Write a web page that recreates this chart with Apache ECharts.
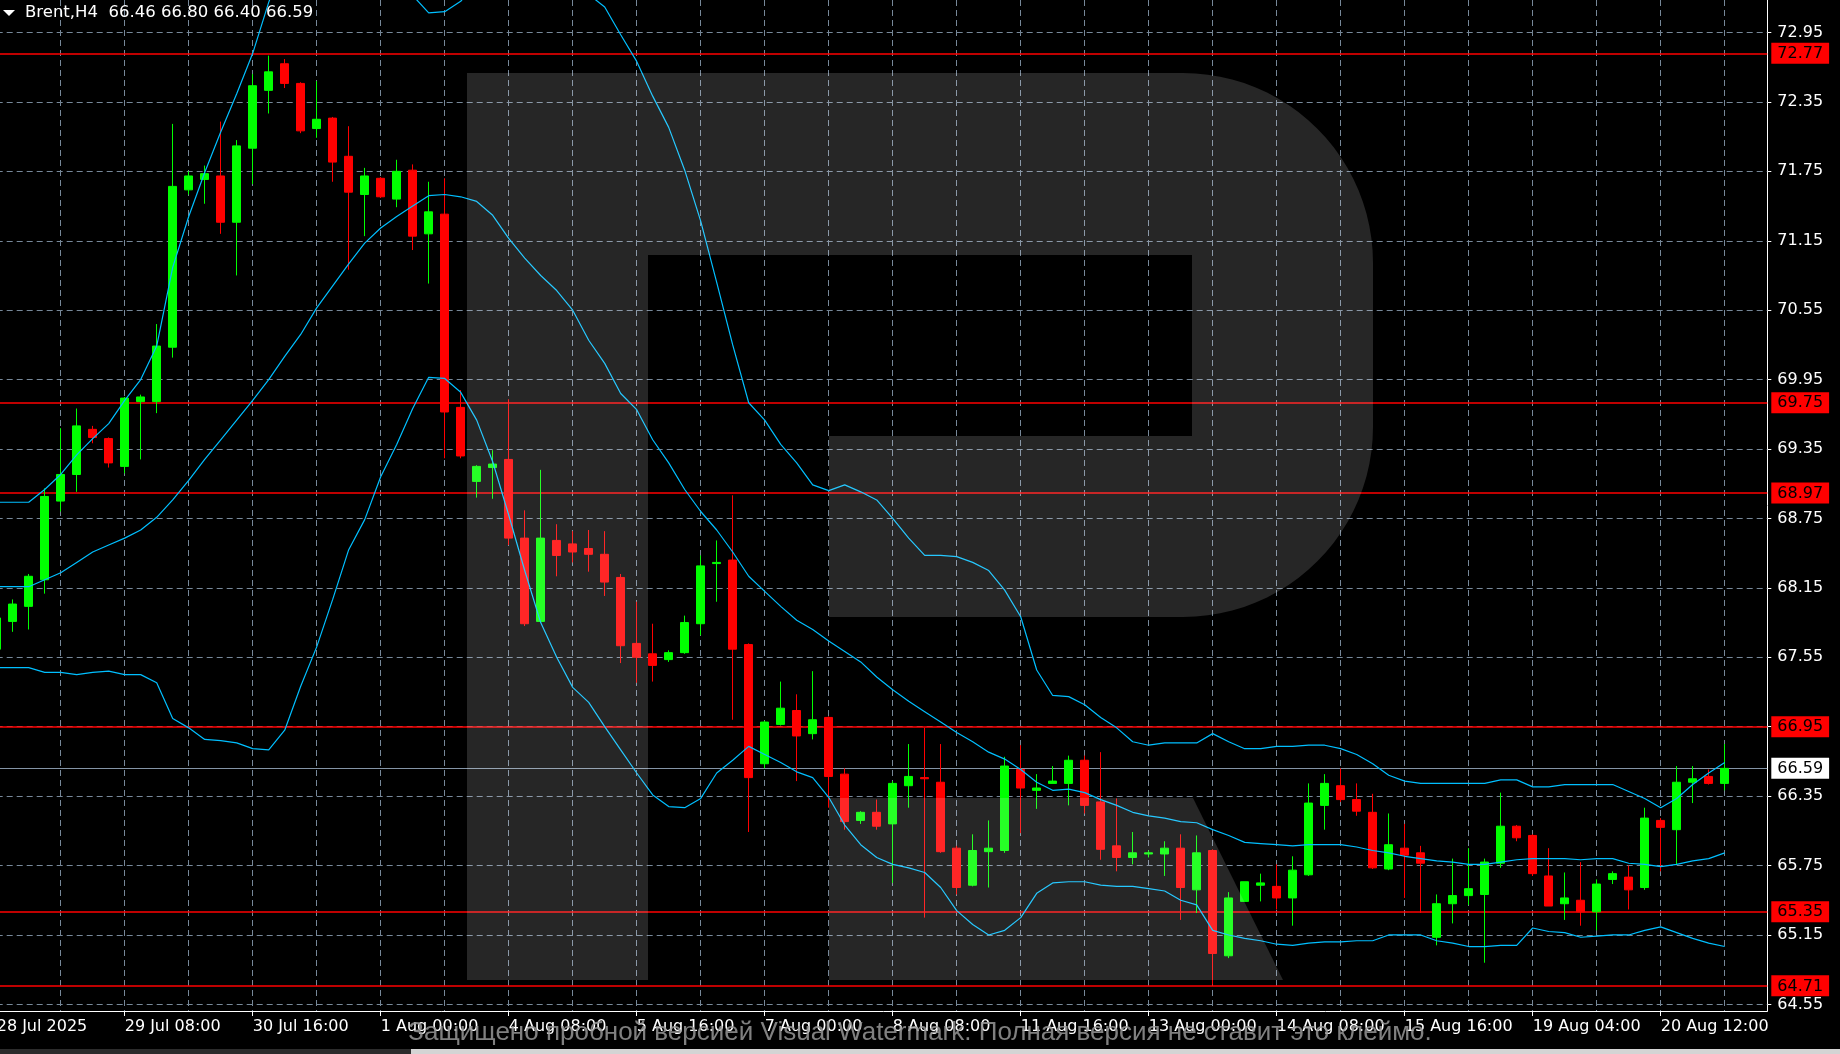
<!DOCTYPE html>
<html><head><meta charset="utf-8">
<script src="https://cdn.jsdelivr.net/npm/echarts@6/dist/echarts.min.js"></script>
<style>html,body{margin:0;padding:0;background:#000;overflow:hidden}#c{width:1840px;height:1054px}</style>
</head><body><div id="c"></div>
<script>
// ---------- DATA ----------
const symbolName = 'Brent,H4';
const timeLabels = ['28 Jul 2025','29 Jul 08:00','30 Jul 16:00','1 Aug 00:00','4 Aug 08:00','5 Aug 16:00','7 Aug 00:00','8 Aug 08:00','11 Aug 16:00','13 Aug 00:00','14 Aug 08:00','15 Aug 16:00','19 Aug 04:00','20 Aug 12:00'];
const barsPerLabel = 8;
const priceTicks = [64.55,65.15,65.75,66.35,66.95,67.55,68.15,68.75,69.35,69.95,70.55,71.15,71.75,72.35,72.95];
const levelLines = [72.77,69.75,68.97,66.95,65.35,64.71];
const lastPrice = 66.59;

const opens  = [67.62,67.86,67.99,68.22,68.90,69.13,69.52,69.44,69.20,69.76,69.76,70.23,71.59,71.68,71.71,71.31,71.95,72.45,72.68,72.51,72.12,72.21,71.88,71.55,71.69,71.51,71.76,71.21,71.38,69.71,69.07,69.19,69.26,68.58,67.86,68.56,68.53,68.49,68.44,68.24,67.67,67.58,67.53,67.59,67.84,68.36,68.39,67.66,66.63,66.97,67.09,66.89,67.03,66.54,66.14,66.21,66.11,66.44,66.51,66.47,65.90,65.58,65.87,65.88,66.58,66.40,66.46,66.46,66.66,66.30,65.92,65.82,65.85,65.85,65.90,65.54,65.88,64.97,65.44,65.58,65.57,65.47,65.67,66.27,66.44,66.32,66.21,65.72,65.90,65.86,65.13,65.42,65.49,65.50,65.77,66.09,66.01,65.66,65.42,65.45,65.35,65.63,65.65,65.56,66.14,66.06,66.47,66.52,66.46];
const closes = [67.89,68.01,68.25,68.94,69.13,69.55,69.45,69.23,69.79,69.80,70.24,71.62,71.71,71.73,71.31,71.97,72.49,72.61,72.51,72.10,72.20,71.83,71.57,71.71,71.53,71.75,71.19,71.40,69.67,69.29,69.20,69.22,68.58,67.84,68.58,68.43,68.46,68.44,68.20,67.65,67.55,67.48,67.59,67.85,68.34,68.37,67.62,66.51,66.99,67.11,66.87,67.01,66.52,66.13,66.21,66.09,66.46,66.52,66.50,65.87,65.56,65.88,65.90,66.61,66.42,66.42,66.48,66.66,66.27,65.89,65.82,65.86,65.86,65.90,65.56,65.86,64.99,65.47,65.61,65.60,65.47,65.71,66.29,66.46,66.32,66.22,65.73,65.93,65.84,65.77,65.42,65.49,65.55,65.78,66.09,65.99,65.68,65.40,65.47,65.35,65.59,65.68,65.54,66.16,66.08,66.47,66.50,66.46,66.59];
const highs  = [67.95,68.05,68.27,69.01,69.53,69.70,69.55,69.45,69.80,69.82,70.43,72.16,71.75,71.80,72.18,72.02,72.59,72.75,72.72,72.52,72.53,72.22,72.14,71.78,71.70,71.85,71.81,71.66,71.69,69.86,69.21,69.34,69.78,68.82,69.17,68.70,68.64,68.65,68.64,68.27,68.03,67.84,67.61,67.91,68.43,68.56,68.95,67.67,67.00,67.34,67.23,67.43,67.04,66.59,66.22,66.32,66.48,66.80,66.94,66.80,65.92,66.02,66.14,66.69,66.79,66.54,66.61,66.70,66.70,66.73,66.33,66.04,65.88,65.96,66.02,66.01,65.89,65.52,65.61,65.68,65.76,65.83,66.46,66.54,66.59,66.46,66.37,66.20,66.11,65.92,65.50,65.81,65.90,65.81,66.38,66.10,66.02,65.90,65.69,65.78,65.63,65.70,65.75,66.25,66.16,66.61,66.61,66.58,66.80];
const lows   = [67.55,67.77,67.79,68.10,68.81,68.98,69.40,69.19,69.14,69.26,69.66,70.14,71.55,71.47,71.21,70.85,71.64,72.25,72.47,72.08,72.04,71.66,70.90,71.19,71.52,71.44,71.07,70.78,69.27,69.27,68.93,68.92,68.52,67.82,67.85,68.25,68.37,68.29,68.08,67.50,67.33,67.34,67.51,67.58,67.74,68.03,67.01,66.04,66.59,66.96,66.48,66.84,66.25,66.06,66.11,66.06,65.60,66.25,65.30,65.86,65.50,65.57,65.56,65.86,66.03,66.24,66.46,66.27,66.20,65.80,65.70,65.76,65.82,65.66,65.28,65.34,64.72,64.95,65.44,65.44,65.37,65.23,65.66,66.06,66.30,66.18,65.72,65.71,65.47,65.34,65.06,65.25,65.41,64.91,65.73,65.96,65.66,65.40,65.28,65.23,65.19,65.59,65.37,65.54,65.70,65.76,66.29,66.45,66.40];

const bbUpper  = [68.89,68.89,68.89,69.00,69.13,69.30,69.44,69.57,69.77,69.95,70.24,70.92,71.36,71.74,72.09,72.42,72.77,73.21,73.60,73.90,74.10,74.20,74.15,73.95,73.70,73.45,73.27,73.12,73.13,73.22,73.38,73.58,73.72,73.78,73.72,73.60,73.45,73.28,73.17,72.93,72.70,72.40,72.13,71.76,71.32,70.79,70.25,69.75,69.60,69.39,69.23,69.04,68.99,69.04,68.98,68.91,68.75,68.58,68.43,68.43,68.42,68.37,68.30,68.13,67.90,67.44,67.22,67.21,67.14,67.03,66.94,66.82,66.79,66.81,66.81,66.81,66.89,66.82,66.76,66.76,66.78,66.78,66.79,66.79,66.76,66.71,66.63,66.53,66.48,66.46,66.46,66.46,66.46,66.46,66.49,66.49,66.43,66.43,66.45,66.45,66.45,66.45,66.39,66.33,66.25,66.33,66.45,66.55,66.64];
const bbMiddle = [68.16,68.16,68.16,68.22,68.28,68.37,68.46,68.52,68.58,68.65,68.76,68.91,69.08,69.26,69.43,69.60,69.77,69.95,70.15,70.34,70.57,70.76,70.95,71.13,71.26,71.36,71.45,71.54,71.55,71.53,71.49,71.37,71.17,71.00,70.85,70.72,70.55,70.29,70.09,69.83,69.69,69.43,69.23,69.00,68.81,68.65,68.46,68.25,68.12,67.99,67.87,67.79,67.69,67.60,67.51,67.38,67.27,67.17,67.08,66.99,66.90,66.82,66.73,66.67,66.58,66.47,66.40,66.41,66.38,66.32,66.27,66.21,66.18,66.16,66.13,66.12,66.06,66.01,65.95,65.94,65.93,65.92,65.93,65.93,65.93,65.91,65.88,65.86,65.83,65.81,65.79,65.78,65.76,65.76,65.78,65.80,65.81,65.81,65.81,65.80,65.81,65.81,65.77,65.76,65.74,65.76,65.79,65.81,65.86];
const bbLower  = [67.46,67.46,67.46,67.42,67.42,67.40,67.42,67.43,67.40,67.40,67.33,67.02,66.94,66.84,66.83,66.81,66.76,66.75,66.92,67.30,67.64,68.05,68.48,68.74,69.11,69.39,69.70,69.97,69.96,69.84,69.60,69.24,68.78,68.30,67.85,67.55,67.29,67.16,66.95,66.75,66.55,66.36,66.26,66.25,66.33,66.55,66.66,66.78,66.71,66.64,66.56,66.51,66.34,66.10,65.93,65.82,65.76,65.73,65.69,65.56,65.36,65.24,65.15,65.19,65.30,65.51,65.60,65.61,65.61,65.58,65.57,65.57,65.55,65.53,65.45,65.41,65.19,65.15,65.12,65.10,65.07,65.06,65.08,65.09,65.09,65.10,65.10,65.15,65.15,65.15,65.10,65.08,65.05,65.05,65.06,65.06,65.21,65.18,65.17,65.13,65.14,65.15,65.15,65.19,65.22,65.17,65.12,65.08,65.05];

const watermarkText = 'Защищено пробной версией Visual Watermark. Полная версия не ставит это клеймо.';

// ---------- BUILD ----------
const FONT = 'DejaVu Sans';
const nBars = opens.length;
const candleData = opens.map((o, i) => [i, o, closes[i], lows[i], highs[i]]);
const toLine = arr => arr.map((v, i) => [i, v]);
const labelTicks = timeLabels.map((_, k) => k * barsPerLabel);
const last = nBars - 1;
const headerText = symbolName + '  ' + [opens[last], highs[last], lows[last], closes[last]].map(v => v.toFixed(2)).join(' ');

// Plot geometry
const W = 1840, H = 1054;
const gridLeft = -3.3, gridRight = 72.7, gridTop = 0, gridBottom = 43;
const pxPerBar = 16;
const xMax = (W - gridRight - gridLeft) / pxPerBar;
const yMin = 64.4928, yMax = 73.2309;

// watermark "R" shape (decoration)
function arc(cx, cy, r, a0, a1, n) {
  const p = [];
  for (let k = 0; k <= n; k++) { const a = a0 + (a1 - a0) * k / n; p.push([cx + r * Math.cos(a), cy + r * Math.sin(a)]); }
  return p;
}
const R = 190;
const rBody = [[467,73]].concat(
  arc(1373 - R, 73 + R, R, -Math.PI / 2, 0, 24),
  arc(1373 - R, 617 - R, R, 0, Math.PI / 2, 24),
  [[829,617],[829,436],[1192,436],[1192,255],[648,255],[648,980],[467,980]]
);
const rLeg = [[829,798],[1193,798],[1283,980],[829,980]];

const chart = echarts.init(document.getElementById('c'), null, { renderer: 'canvas', width: W, height: H });
const dashStyle = { color: '#778899', type: [6, 4], width: 1 };

chart.setOption({
  animation: false,
  backgroundColor: '#000000',
  grid: { left: gridLeft, right: gridRight, top: gridTop, bottom: gridBottom, containLabel: false, outerBoundsMode: 'none' },
  xAxis: [
    { type: 'value', min: 0, max: xMax, interval: 4, position: 'bottom',
      axisLine: { show: true, onZero: false, lineStyle: { color: '#ffffff', width: 1 } },
      axisTick: { show: false }, axisLabel: { show: false },
      splitLine: { show: true, showMinLine: false, showMaxLine: false, lineStyle: dashStyle } },
    { type: 'value', min: 0, max: xMax, position: 'bottom',
      axisLine: { show: false, onZero: false },
      axisTick: { show: true, customValues: labelTicks, length: 5, lineStyle: { color: '#ffffff' } },
      axisLabel: { show: true, customValues: labelTicks, align: 'left', margin: 8, color: '#ffffff',
        fontFamily: FONT, fontSize: 16,
        formatter: v => timeLabels[Math.round(v / barsPerLabel)] || '' },
      splitLine: { show: false } }
  ],
  yAxis: [
    { type: 'value', min: yMin, max: yMax, position: 'right',
      axisLine: { show: true, onZero: false, lineStyle: { color: '#ffffff', width: 1 } },
      axisTick: { show: true, customValues: priceTicks, length: 4, lineStyle: { color: '#ffffff' } },
      axisLabel: { show: true, customValues: priceTicks, margin: 10, color: '#ffffff', fontFamily: FONT, fontSize: 16,
        formatter: v => v.toFixed(2) },
      splitLine: { show: false } },
    { type: 'value', min: yMin, max: yMax, position: 'right',
      axisLine: { show: false }, axisTick: { show: false }, splitLine: { show: false },
      axisLabel: { show: true, customValues: levelLines.concat([lastPrice]), margin: 4,
        formatter: v => (Math.abs(v - lastPrice) < 1e-6 ? '{w|' : '{r|') + v.toFixed(2) + '}',
        rich: {
          r: { backgroundColor: '#ff0000', color: '#000000', fontFamily: FONT, fontSize: 16, lineHeight: 17, padding: [3, 6, 2, 6] },
          w: { backgroundColor: '#ffffff', color: '#000000', fontFamily: FONT, fontSize: 16, lineHeight: 17, padding: [3, 6, 2, 6] }
        } } }
  ],
  series: [
    { name: 'grid', type: 'line', xAxisIndex: 0, yAxisIndex: 0, data: [], z: 1, silent: true,
      markLine: { silent: true, z: 1, symbol: ['none', 'none'], label: { show: false }, animation: false,
        lineStyle: dashStyle, emphasis: { disabled: true },
        data: priceTicks.map(v => ({ yAxis: v })) } },
    { name: 'levels', type: 'line', xAxisIndex: 0, yAxisIndex: 0, data: [], z: 2, silent: true,
      markLine: { silent: true, z: 2, symbol: ['none', 'none'], label: { show: false }, animation: false,
        emphasis: { disabled: true },
        data: levelLines.map(v => ({ yAxis: v, lineStyle: { color: '#ff0000', width: 1.5, type: 'solid' } }))
          .concat([{ yAxis: lastPrice, lineStyle: { color: '#8494a6', width: 1.2, type: 'solid' } }]) } },
    { name: 'Brent', type: 'candlestick', xAxisIndex: 0, yAxisIndex: 0, z: 3,
      encode: { x: 0, y: [1, 2, 3, 4] },
      barWidth: 9, clip: true,
      itemStyle: { color: '#00ff00', color0: '#ff0000', borderColor: '#00ff00', borderColor0: '#ff0000', borderWidth: 1 },
      data: candleData },
    { name: 'BB upper', type: 'line', z: 4, data: toLine(bbUpper), showSymbol: false, symbol: 'none', clip: true,
      lineStyle: { color: '#00bfff', width: 1.2 } },
    { name: 'BB middle', type: 'line', z: 4, data: toLine(bbMiddle), showSymbol: false, symbol: 'none', clip: true,
      lineStyle: { color: '#00bfff', width: 1.2 } },
    { name: 'BB lower', type: 'line', z: 4, data: toLine(bbLower), showSymbol: false, symbol: 'none', clip: true,
      lineStyle: { color: '#00bfff', width: 1.2 } }
  ],
  graphic: [
    { type: 'polygon', silent: true, z: 100, shape: { points: rBody }, style: { fill: 'rgba(255,255,255,0.15)' } },
    { type: 'polygon', silent: true, z: 100, shape: { points: rLeg }, style: { fill: 'rgba(255,255,255,0.15)' } },
    { type: 'polygon', silent: true, z: 101, shape: { points: [[3,10],[15,10],[9,16]] }, style: { fill: '#ffffff' } },
    { type: 'text', silent: true, z: 101, left: 25, top: 4,
      style: { text: headerText, fill: '#ffffff', font: '16.5px "' + FONT + '"' } },
    { type: 'rect', silent: true, z: 101, shape: { x: 0, y: 1049, width: 411, height: 5 }, style: { fill: '#2c2c2c' } },
    { type: 'rect', silent: true, z: 101, shape: { x: 411, y: 1049, width: 1429, height: 5 }, style: { fill: '#d4d4d4' } },
    { type: 'text', silent: true, z: 102, left: 'center', top: 1020,
      style: { text: watermarkText, fill: 'rgba(150,150,150,0.85)', font: '26px "Liberation Sans"' } }
  ]
});
</script>
</body></html>
